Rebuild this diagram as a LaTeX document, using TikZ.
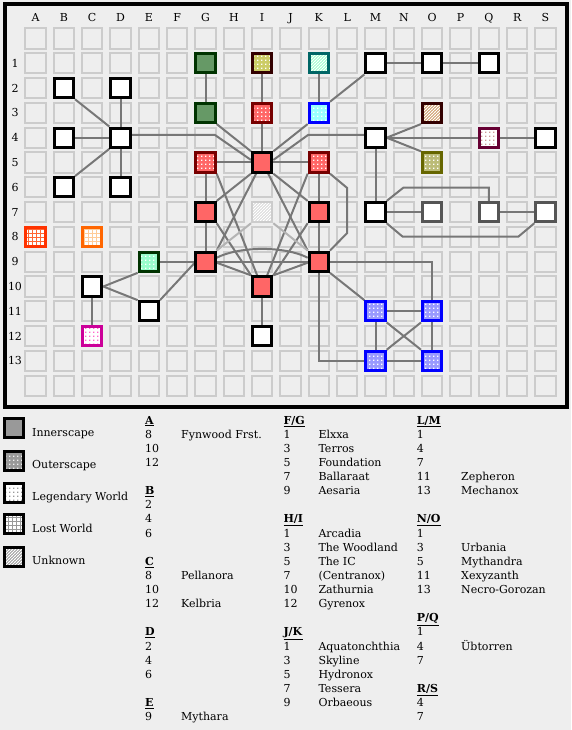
\documentclass[tikz,border=0pt]{standalone}
\usepackage{fontspec}
\setmainfont{DejaVu Serif}
\usetikzlibrary{patterns,calc}
\pgfdeclarelayer{bglayer}
\pgfdeclarelayer{edgelayer}
\pgfsetlayers{bglayer,edgelayer,main}
\pgfdeclarepatternformonly{pxdots}{\pgfpointorigin}{\pgfpoint{4pt}{4pt}}{\pgfpoint{4pt}{4pt}}{\pgfpathrectangle{\pgfpoint{1.3pt}{1.3pt}}{\pgfpoint{1.4pt}{1.4pt}}\pgfusepath{fill}}
\pgfdeclarepatternformonly{pxne}{\pgfpoint{-1pt}{-1pt}}{\pgfpoint{4pt}{4pt}}{\pgfpoint{3pt}{3pt}}{\pgfsetlinewidth{0.9pt}\pgfpathmoveto{\pgfpoint{-0.5pt}{-0.5pt}}\pgfpathlineto{\pgfpoint{3.5pt}{3.5pt}}\pgfusepath{stroke}}
\pgfdeclarepatternformonly{pxgrid}{\pgfpoint{-1pt}{-1pt}}{\pgfpoint{5pt}{5pt}}{\pgfpoint{4pt}{4pt}}{\pgfsetlinewidth{1pt}\pgfpathmoveto{\pgfpoint{0pt}{-0.5pt}}\pgfpathlineto{\pgfpoint{0pt}{4.5pt}}\pgfpathmoveto{\pgfpoint{-0.5pt}{0pt}}\pgfpathlineto{\pgfpoint{4.5pt}{0pt}}\pgfusepath{stroke}}
\definecolor{bgcol}{HTML}{EEEEEE}
\definecolor{cellgray}{HTML}{CCCCCC}
\definecolor{linegray}{HTML}{777777}
\definecolor{lightline}{HTML}{B4B4B4}
\definecolor{redfill}{HTML}{FF6666}
\definecolor{dkred}{HTML}{770000}
\definecolor{greenfill}{HTML}{669966}
\definecolor{dkgreen}{HTML}{003300}
\definecolor{yelfill}{HTML}{CCCC66}
\definecolor{dkbrown}{HTML}{330000}
\definecolor{mintfill}{HTML}{99FFCC}
\definecolor{tealb}{HTML}{006666}
\definecolor{cyanfill}{HTML}{99FFFF}
\definecolor{pureblue}{HTML}{0000FF}
\definecolor{brownfill}{HTML}{CC9966}
\definecolor{olivefill}{HTML}{BBBB77}
\definecolor{oliveb}{HTML}{666600}
\definecolor{pinkdot}{HTML}{CC9999}
\definecolor{maroonb}{HTML}{660033}
\definecolor{bluefill}{HTML}{9999FF}
\definecolor{orgrid}{HTML}{FF6633}
\definecolor{orb}{HTML}{FF3300}
\definecolor{lorgrid}{HTML}{FFCC99}
\definecolor{lorb}{HTML}{FF6600}
\definecolor{magdot}{HTML}{FF66CC}
\definecolor{magb}{HTML}{CC0099}
\definecolor{unkfill}{HTML}{D8D8D8}
\definecolor{midgray}{HTML}{555555}
\definecolor{leggray}{HTML}{999999}
\newcommand\mnode[4]{\node[#1] (#2) at ({35.5+28.333*(#3-1)},{63.3+24.8*(#4-1)}) {};}
\begin{document}
\begin{tikzpicture}[x=1pt,y=-1pt,
  every node/.style={font=\fontsize{11pt}{13pt}\selectfont, inner sep=0pt},
  cellbox/.style={rectangle, draw=cellgray, line width=2pt, minimum size=20.3pt},
  mbase/.style={rectangle, minimum size=19.3pt, line width=3pt},
  wnode/.style={mbase, fill=white, draw=black},
  wgray/.style={mbase, fill=white, draw=midgray},
  rnode/.style={mbase, fill=redfill, draw=black},
  gnode/.style={mbase, fill=greenfill, draw=dkgreen},
  rdot/.style={mbase, draw=dkred, preaction={fill=redfill}, pattern=pxdots, pattern color=white},
  ydot/.style={mbase, draw=dkbrown, preaction={fill=yelfill}, pattern=pxdots, pattern color=white},
  mintne/.style={mbase, draw=tealb, preaction={fill=mintfill}, pattern=pxne, pattern color=white},
  cdot/.style={mbase, draw=pureblue, preaction={fill=cyanfill}, pattern=pxdots, pattern color=white},
  bne/.style={mbase, draw=dkbrown, preaction={fill=brownfill}, pattern=pxne, pattern color=white},
  pdot/.style={mbase, draw=maroonb, preaction={fill=white}, pattern=pxdots, pattern color=pinkdot},
  odot/.style={mbase, draw=oliveb, preaction={fill=olivefill}, pattern=pxdots, pattern color=white},
  unk/.style={rectangle, minimum size=20.3pt, line width=2pt, draw=cellgray, preaction={fill=unkfill}, pattern=pxne, pattern color=white},
  lgrida/.style={mbase, draw=orb, preaction={fill=white}, pattern=pxgrid, pattern color=orgrid},
  lgridc/.style={mbase, draw=lorb, preaction={fill=white}, pattern=pxgrid, pattern color=lorgrid},
  mdot/.style={mbase, draw=dkgreen, preaction={fill=mintfill}, pattern=pxdots, pattern color=white},
  bdot/.style={mbase, draw=pureblue, preaction={fill=bluefill}, pattern=pxdots, pattern color=white},
  mgdot/.style={mbase, draw=magb, preaction={fill=white}, pattern=pxdots, pattern color=magdot},
  legsw/.style={rectangle, minimum size=19pt, line width=3pt, draw=black},
  conn/.style={draw=linegray, line width=2pt},
  connl/.style={draw=lightline, line width=2pt},
  txt/.style={anchor=base west},
  lbl/.style={anchor=base}
]
\useasboundingbox (0,0) rectangle (571,730);
\begin{pgfonlayer}{bglayer}
\fill[bgcol] (0,0) rectangle (571,730);
\foreach \c in {1,...,19}{
  \foreach \r in {0,...,14}{
    \node[cellbox] (g-\c-\r) at ({35.5+28.333*(\c-1)},{63.3+24.8*(\r-1)}) {};
  }
}
\end{pgfonlayer}
\draw[line width=4pt] (4.5,4) rectangle (566.5,407);
% labels
\foreach \L [count=\c] in {A,B,C,D,E,F,G,H,I,J,K,L,M,N,O,P,Q,R,S}{
  \node[lbl] (col\L) at ({35.5+28.333*(\c-1)},22) {\L};
}
\foreach \r in {1,...,13}{
  \node[lbl] (row\r) at (15,{63.3+24.8*(\r-1)+4}) {\r};
}
% map nodes
\mnode{gnode}{G1}{7}{1}
\mnode{ydot}{I1}{9}{1}
\mnode{mintne}{K1}{11}{1}
\mnode{wnode}{M1}{13}{1}
\mnode{wnode}{O1}{15}{1}
\mnode{wnode}{Q1}{17}{1}
\mnode{wnode}{B2}{2}{2}
\mnode{wnode}{D2}{4}{2}
\mnode{gnode}{G3}{7}{3}
\mnode{rdot}{I3}{9}{3}
\mnode{cdot}{K3}{11}{3}
\mnode{bne}{O3}{15}{3}
\mnode{wnode}{B4}{2}{4}
\mnode{wnode}{D4}{4}{4}
\mnode{wnode}{M4}{13}{4}
\mnode{pdot}{Q4}{17}{4}
\mnode{wnode}{S4}{19}{4}
\mnode{rdot}{G5}{7}{5}
\mnode{rnode}{I5}{9}{5}
\mnode{rdot}{K5}{11}{5}
\mnode{odot}{O5}{15}{5}
\mnode{wnode}{B6}{2}{6}
\mnode{wnode}{D6}{4}{6}
\mnode{rnode}{G7}{7}{7}
\mnode{unk}{I7}{9}{7}
\mnode{rnode}{K7}{11}{7}
\mnode{wnode}{M7}{13}{7}
\mnode{wgray}{O7}{15}{7}
\mnode{wgray}{Q7}{17}{7}
\mnode{wgray}{S7}{19}{7}
\mnode{lgrida}{A8}{1}{8}
\mnode{lgridc}{C8}{3}{8}
\mnode{mdot}{E9}{5}{9}
\mnode{rnode}{G9}{7}{9}
\mnode{rnode}{K9}{11}{9}
\mnode{wnode}{C10}{3}{10}
\mnode{rnode}{I10}{9}{10}
\mnode{wnode}{E11}{5}{11}
\mnode{bdot}{M11}{13}{11}
\mnode{bdot}{O11}{15}{11}
\mnode{mgdot}{C12}{3}{12}
\mnode{wnode}{I12}{9}{12}
\mnode{bdot}{M13}{13}{13}
\mnode{bdot}{O13}{15}{13}
% connectors
\begin{pgfonlayer}{edgelayer}
\draw[conn] (B2.south east) -- (D4.north west);
\draw[conn] (D2) -- (D4);
\draw[conn] (B4) -- (D4);
\draw[conn] (B6.north east) -- (D4.south west);
\draw[conn] (D4) -- (D6);
\draw[conn] ($(D4.east)+(0,-2.7)$) -- (215,135) -- ($(I5.west)+(0,-2.5)$);
\draw[conn] (G1) -- (G3);
\draw[conn] (I1) -- (I3);
\draw[conn] (I3) -- (I5);
\draw[conn] (K1) -- (K3);
\draw[conn] (G3.south east) -- (I5.north west);
\draw[conn] (K3.south west) -- (I5.north east);
\draw[conn] (M1.south west) -- (K3.north east);
\draw[conn] ($(M4.west)+(0,-2.7)$) -- (308,135) -- ($(I5.east)+(0,-2.5)$);
\draw[conn] (G5) -- (I5);
\draw[conn] (I5) -- (K5);
\draw[conn] (G5) -- (G7);
\draw[conn] (G7) -- (G9);
\draw[conn] (K5) -- (K7);
\draw[conn] (K7) -- (K9);
\draw[conn] (K5.south east) -- (347.2,188) -- (347.2,233) -- (K9.north east);
\draw[conn] (M1) -- (O1);
\draw[conn] (O1) -- (Q1);
\draw[conn] (M4.east) -- (O3.south west);
\draw[conn] (M4.east) -- (O5.north west);
\draw[conn] (M4) -- (Q4);
\draw[conn] (Q4) -- (S4);
\draw[conn] (M4) -- (M7);
\draw[conn] (M7) -- (O7);
\draw[conn] (Q7) -- (S7);
\draw[conn] (M7.north east) -- (403.3,187.7) -- (488.8,187.7) -- (Q7.north);
\draw[conn] (M7.south east) -- (402.7,236.7) -- (518.3,236.7) -- (S7.south west);
% centre mesh
\draw[conn] (I5.south west) -- (G7.north east);
\draw[conn] (I5.south east) -- (K7.north west);
\draw[conn] ($(I5.south)+(-6,0)$) -- (G9.north east);
\draw[conn] ($(I5.south)+(6,0)$) -- (K9.north west);
\draw[conn] (G5.south east) -- ($(I10.north)+(-5,0)$);
\draw[conn] (K5.south west) -- ($(I10.north)+(5,0)$);
\draw[conn] (G7.south east) -- (I10.north west);
\draw[conn] (K7.south west) -- (I10.north east);
\draw[conn] (G9) -- (K9);
\draw[conn] ($(G9.east)+(0,-4)$) .. controls (240,246) and (285,246) .. ($(K9.west)+(0,-4)$);
\draw[conn] ($(G9.east)+(0,1)$) -- (I10.north west);
\draw[conn] ($(K9.west)+(0,1)$) -- (I10.north east);
\draw[connl] (I7.south west) -- (G9.north east);
\draw[connl] (I7.south east) -- (K9.north west);
% left lower
\draw[conn] (E9) -- (G9);
\draw[conn] (C10.east) -- (E9.south west);
\draw[conn] (C10.east) -- (E11.north west);
\draw[conn] (E11.north east) -- ($(G9.west)+(0,1.5)$);
\draw[conn] (C10) -- (C12);
\draw[conn] (I10) -- (I12);
% right lower
\draw[conn] (K9) -- (O11 |- K9) -- (O11);
\draw[conn] (K9.south east) -- (M11.north west);
\draw[conn] (K9) -- (K9 |- M13) -- (M13);
\draw[conn] (M11) -- (O11);
\draw[conn] (M11) -- (M13);
\draw[conn] (O11) -- (O13);
\draw[conn] (M13) -- (O13);
\draw[conn] (M11.south east) -- (O13.north west);
\draw[conn] (O11.south west) -- (M13.north east);
\end{pgfonlayer}
% legend
\node[legsw, fill=leggray] (sw1) at (14.2,428) {};
\node[legsw, preaction={fill=leggray}, pattern=pxdots, pattern color=white!85!leggray] (sw2) at (14.2,460.5) {};
\node[legsw, preaction={fill=white}, pattern=pxdots, pattern color=leggray] (sw3) at (14.2,492.5) {};
\node[legsw, preaction={fill=white}, pattern=pxgrid, pattern color=leggray] (sw4) at (14.2,524) {};
\node[legsw, preaction={fill=leggray}, pattern=pxne, pattern color=white] (sw5) at (14.2,556.5) {};
\node[txt] (lb1) at (32,436) {Innerscape};
\node[txt] (lb2) at (32,468.5) {Outerscape};
\node[txt] (lb3) at (32,500.5) {Legendary World};
\node[txt] (lb4) at (32,532) {Lost World};
\node[txt] (lb5) at (32,564.5) {Unknown};
% index column 1
\node[txt] (hA) at (145,424) {\underline{\textbf{A}}};
\node[txt] (hB) at (145,{424+14.13*5}) {\underline{\textbf{B}}};
\node[txt] (hC) at (145,{424+14.13*10}) {\underline{\textbf{C}}};
\node[txt] (hD) at (145,{424+14.13*15}) {\underline{\textbf{D}}};
\node[txt] (hE) at (145,{424+14.13*20}) {\underline{\textbf{E}}};
\foreach \k/\n [count=\i] in {1/8,2/10,3/12,6/2,7/4,8/6,11/8,12/10,13/12,16/2,17/4,18/6,21/9}{
  \node[txt] (na\i) at (145,{424+14.13*\k}) {\n};
}
\foreach \k/\t [count=\i] in {1/Fynwood Frst.,11/Pellanora,13/Kelbria,21/Mythara}{
  \node[txt] (ta\i) at (181,{424+14.13*\k}) {\t};
}
% index column 2
\node[txt] (hFG) at (283.3,424) {\underline{\textbf{F/G}}};
\node[txt] (hHI) at (283.3,{424+14.13*7}) {\underline{\textbf{H/I}}};
\node[txt] (hJK) at (283.3,{424+14.13*15}) {\underline{\textbf{J/K}}};
\foreach \k/\n [count=\i] in {1/1,2/3,3/5,4/7,5/9,8/1,9/3,10/5,11/7,12/10,13/12,16/1,17/3,18/5,19/7,20/9}{
  \node[txt] (nb\i) at (283.3,{424+14.13*\k}) {\n};
}
\foreach \k/\t [count=\i] in {1/Elxxa,2/Terros,3/Foundation,4/Ballaraat,5/Aesaria,8/Arcadia,9/The Woodland,10/The IC,11/(Centranox),12/Zathurnia,13/Gyrenox,16/Aquatonchthia,17/Skyline,18/Hydronox,19/Tessera,20/Orbaeous}{
  \node[txt] (tb\i) at (318.3,{424+14.13*\k}) {\t};
}
% index column 3
\node[txt] (hLM) at (416.7,424) {\underline{\textbf{L/M}}};
\node[txt] (hNO) at (416.7,{424+14.13*7}) {\underline{\textbf{N/O}}};
\node[txt] (hPQ) at (416.7,{424+14.13*14}) {\underline{\textbf{P/Q}}};
\node[txt] (hRS) at (416.7,{424+14.13*19}) {\underline{\textbf{R/S}}};
\foreach \k/\n [count=\i] in {1/1,2/4,3/7,4/11,5/13,8/1,9/3,10/5,11/11,12/13,15/1,16/4,17/7,20/4,21/7}{
  \node[txt] (nc\i) at (416.7,{424+14.13*\k}) {\n};
}
\foreach \k/\t [count=\i] in {4/Zepheron,5/Mechanox,9/Urbania,10/Mythandra,11/Xexyzanth,12/Necro-Gorozan,16/Übtorren}{
  \node[txt] (tc\i) at (461,{424+14.13*\k}) {\t};
}
\end{tikzpicture}
\end{document}
